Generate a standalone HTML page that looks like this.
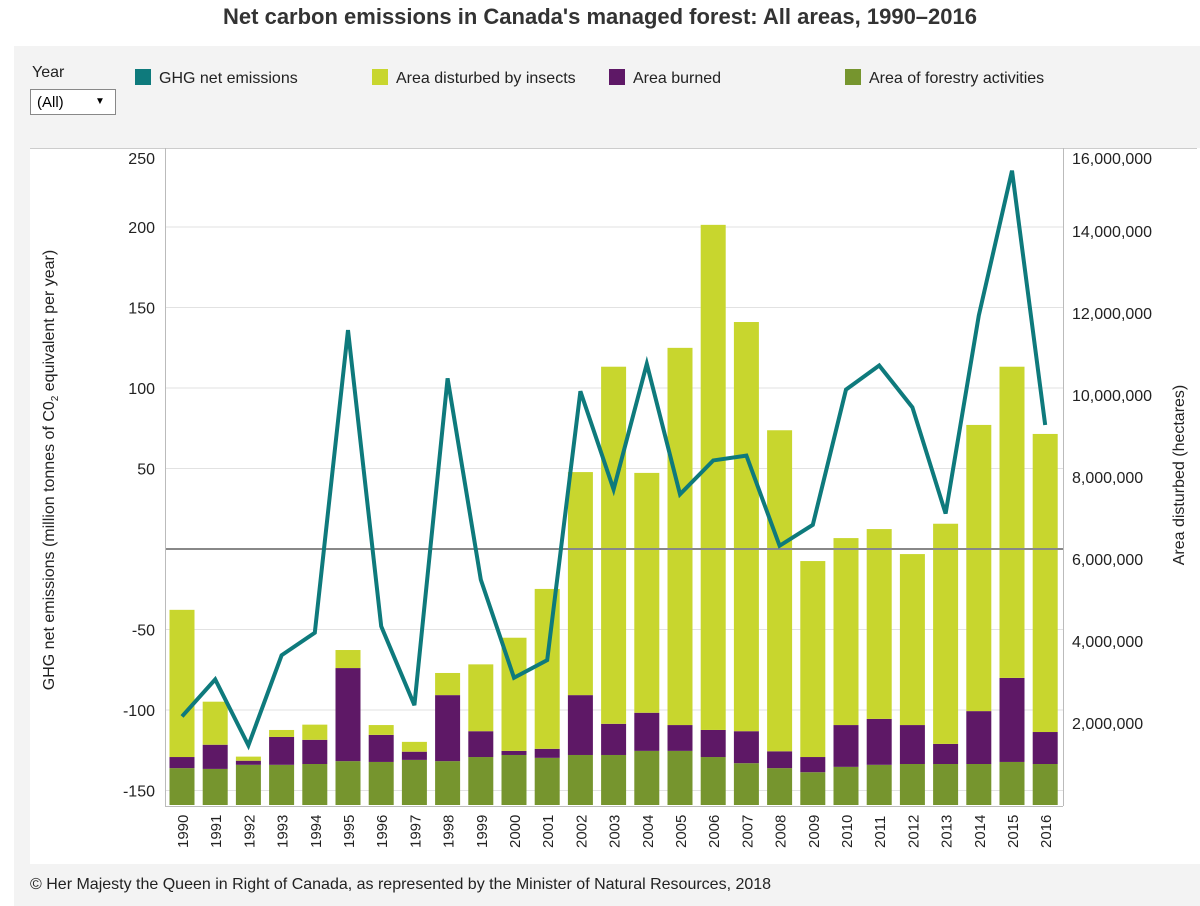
<!DOCTYPE html>
<html><head><meta charset="utf-8"><style>
body{margin:0;width:1200px;height:906px;background:#fff;font-family:"Liberation Sans",Arial,sans-serif;overflow:hidden;position:relative}
.abs{position:absolute}
</style></head><body>
<div class="abs" style="left:0;top:4px;width:1200px;text-align:center;font-weight:bold;font-size:22px;color:#333">Net carbon emissions in Canada's managed forest: All areas, 1990–2016</div>
<div class="abs" style="left:14px;top:46px;width:1186px;height:102px;background:#f3f3f3"></div>
<div class="abs" style="left:32px;top:64px;font-size:16px;color:#222">Year</div>
<div class="abs" style="left:30px;top:89px;width:86px;height:26px;border:1px solid #888;background:#fff;font-size:15px;line-height:26px;box-sizing:border-box;padding-left:6px">(All)<span style="position:absolute;left:64px;top:-1px;font-size:10px">▼</span></div>
<div class="abs" style="left:135px;top:69px;font-size:16px;color:#222"><span style="display:inline-block;width:16px;height:16px;background:#0e7a7c;vertical-align:-2px;margin-right:8px"></span>GHG net emissions</div>
<div class="abs" style="left:372px;top:69px;font-size:16px;color:#222"><span style="display:inline-block;width:16px;height:16px;background:#c8d62e;vertical-align:-2px;margin-right:8px"></span>Area disturbed by insects</div>
<div class="abs" style="left:609px;top:69px;font-size:16px;color:#222"><span style="display:inline-block;width:16px;height:16px;background:#5e1866;vertical-align:-2px;margin-right:8px"></span>Area burned</div>
<div class="abs" style="left:845px;top:69px;font-size:16px;color:#222"><span style="display:inline-block;width:16px;height:16px;background:#76952e;vertical-align:-2px;margin-right:8px"></span>Area of forestry activities</div>
<div class="abs" style="left:14px;top:148px;width:16px;height:716px;background:#f3f3f3"></div>
<div class="abs" style="left:14px;top:864px;width:1186px;height:42px;background:#f3f3f3;font-size:16px;color:#222;line-height:42px;padding-left:16px;box-sizing:border-box">© Her Majesty the Queen in Right of Canada, as represented by the Minister of Natural Resources, 2018</div>
<svg class="abs" style="left:0;top:0" width="1200" height="906" id="chart">
<line x1="30" y1="148.5" x2="1197" y2="148.5" stroke="#ccc"/>
</svg>
<script>
const years=[1990,1991,1992,1993,1994,1995,1996,1997,1998,1999,2000,2001,2002,2003,2004,2005,2006,2007,2008,2009,2010,2011,2012,2013,2014,2015,2016];
const forestry=[0.90,0.88,0.98,0.98,1.0,1.07,1.05,1.10,1.07,1.17,1.22,1.15,1.22,1.22,1.32,1.32,1.17,1.02,0.90,0.80,0.93,0.98,1.0,1.0,1.0,1.05,1.0];
const burned=[0.27,0.59,0.10,0.68,0.59,2.27,0.66,0.20,1.61,0.63,0.10,0.22,1.46,0.76,0.93,0.63,0.66,0.78,0.41,0.37,1.02,1.12,0.95,0.49,1.29,2.05,0.78];
const insects=[3.59,1.05,0.10,0.17,0.37,0.44,0.24,0.24,0.54,1.63,2.76,3.90,5.44,8.71,5.85,9.20,12.32,9.98,7.83,4.78,4.56,4.63,4.17,5.37,6.98,7.59,7.27];
const ghg=[-104,-81,-122,-66,-52,136,-48,-97,106,-19,-80,-69,98,37,115,34,55,58,2,15,99,114,88,22,145,235,77];
const leftTicks=[250,200,150,100,50,-50,-100,-150];
const rightTicks=[16,14,12,10,8,6,4,2];
const NS="http://www.w3.org/2000/svg";
const svg=document.getElementById('chart');
const yL=v=>549-v*1.61;
const yR=m=>805-m*41;
const xC=i=>182+i*33.2;
function mk(t,a){const e=document.createElementNS(NS,t);for(const k in a)e.setAttribute(k,a[k]);svg.appendChild(e);return e;}
// gridlines + left ticks
leftTicks.forEach(v=>{
  const y=yL(v);
  if(v<250){const g=mk('line',{x1:166,x2:1063,y1:y,y2:y,stroke:'#e2e2e2'});
  
  }
  const t=mk('text',{x:155,y:Math.max(y,158)+6,'text-anchor':'end','font-size':16,fill:'#222'});
  t.textContent=v;
  
  
});
rightTicks.forEach(m=>{
  const t=mk('text',{x:1072,y:Math.max(yR(m),158)+6,'font-size':16,fill:'#222'});
  t.textContent=(m*1000000).toLocaleString('en-US');
  
  
});
// bars
years.forEach((yr,i)=>{
  const x=xC(i)-12.5;
  let b=0;
  [[forestry,'#76952e','bar-forestry'],[burned,'#5e1866','bar-burned'],[insects,'#c8d62e','bar-insects']].forEach(([arr,c,n])=>{
    const y0=yR(b),y1=yR(b+arr[i]);
    const r=mk('rect',{x:x,y:y1,width:25,height:y0-y1,fill:c});
    
    
    b+=arr[i];
  });
  const t=mk('text',{transform:`translate(${xC(i)+6},848) rotate(-90)`,'font-size':15,fill:'#222'});
  t.textContent=yr;
  
  
});
// zero line & axes
const z=mk('line',{x1:166,x2:1063,y1:yL(0),y2:yL(0),stroke:'#888','stroke-width':2});


const la=mk('line',{x1:165.5,x2:165.5,y1:148,y2:806,stroke:'#bbb'});


const ra=mk('line',{x1:1063.5,x2:1063.5,y1:148,y2:806,stroke:'#bbb'});


const ba=mk('line',{x1:165,x2:1063,y1:806.5,y2:806.5,stroke:'#bbb'});


// line
const pl=mk('polyline',{points:ghg.map((v,i)=>xC(i)+','+yL(v)).join(' '),fill:'none',stroke:'#0e7a7c','stroke-width':4,'stroke-linejoin':'miter'});


// axis titles
const lt=mk('text',{transform:'translate(54,470) rotate(-90)','text-anchor':'middle','font-size':16,fill:'#222'});
lt.innerHTML='GHG net emissions (million tonnes of C0<tspan font-size="10" dy="4">2</tspan><tspan dy="-4"> equivalent per year)</tspan>';


const rt=mk('text',{transform:'translate(1184,475) rotate(-90)','text-anchor':'middle','font-size':16,fill:'#222'});
rt.textContent='Area disturbed (hectares)';


</script>
</body></html>
